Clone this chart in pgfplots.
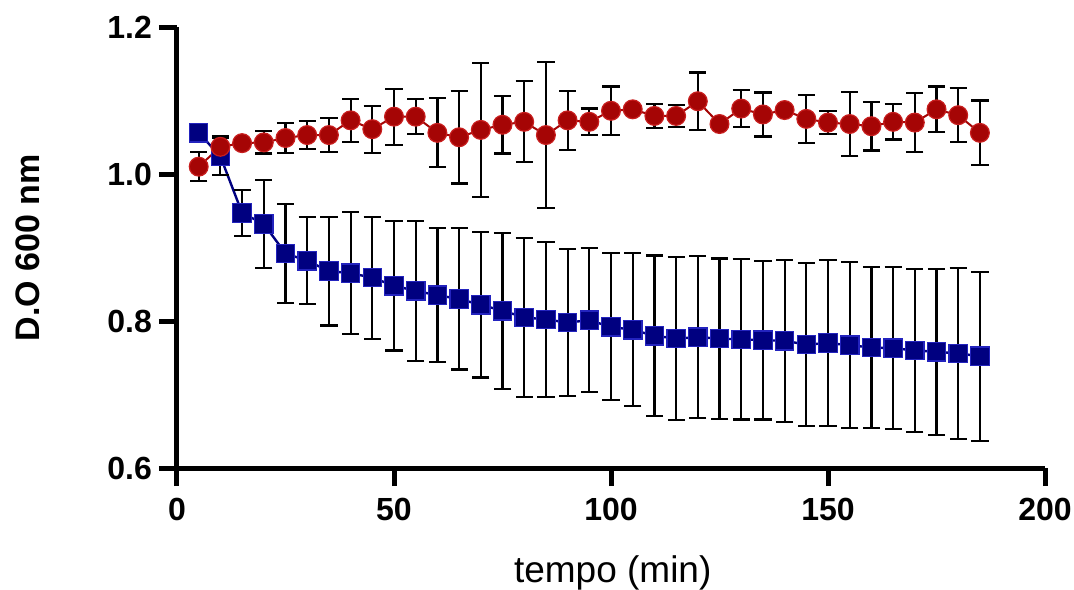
\documentclass[border=0pt]{standalone}
\usepackage{fontspec}
\setmainfont{Liberation Sans}
\usepackage{pgfplots}
\pgfplotsset{compat=1.18}
\definecolor{odred}{RGB}{165,5,5}
\definecolor{odredline}{RGB}{200,30,30}
\definecolor{odblue}{RGB}{0,0,128}
\definecolor{odblueline}{RGB}{35,35,190}

% time (min), mean OD600, SD
\pgfplotstableread{
x y e
5 1.056 0.012
10 1.024 0.025
15 0.947 0.031
20 0.932 0.060
25 0.892 0.067
30 0.882 0.059
35 0.868 0.074
40 0.865 0.083
45 0.859 0.083
50 0.848 0.088
55 0.841 0.095
60 0.835 0.091
65 0.830 0.096
70 0.822 0.099
75 0.814 0.106
80 0.805 0.108
85 0.802 0.105
90 0.798 0.100
95 0.801 0.098
100 0.792 0.100
105 0.788 0.104
110 0.780 0.109
115 0.776 0.111
120 0.778 0.110
125 0.776 0.109
130 0.775 0.109
135 0.774 0.108
140 0.773 0.110
145 0.768 0.111
150 0.770 0.113
155 0.767 0.113
160 0.764 0.110
165 0.763 0.110
170 0.760 0.111
175 0.758 0.113
180 0.756 0.116
185 0.752 0.115
}\bluedata

\pgfplotstableread{
x y e
5 1.010 0.020
10 1.037 0.015
15 1.042 0
20 1.043 0.015
25 1.049 0.020
30 1.053 0.019
35 1.053 0.023
40 1.073 0.029
45 1.061 0.032
50 1.078 0.038
55 1.078 0.024
60 1.056 0.047
65 1.050 0.063
70 1.060 0.091
75 1.067 0.039
80 1.071 0.055
85 1.053 0.099
90 1.073 0.040
95 1.071 0.018
100 1.086 0.033
105 1.088 0
110 1.079 0.016
115 1.079 0.015
120 1.099 0.039
125 1.068 0
130 1.089 0.025
135 1.081 0.030
140 1.087 0
145 1.075 0.033
150 1.070 0.016
155 1.068 0.044
160 1.065 0.033
165 1.071 0.024
170 1.070 0.040
175 1.088 0.031
180 1.080 0.037
185 1.056 0.044
}\reddata

\begin{document}
\begin{tikzpicture}
\path[use as bounding box] (-88.5pt,-60.5pt) rectangle (448.5pt,234pt);
\begin{axis}[
  scale only axis,
  width=434pt, height=220.5pt,
  xmin=0, xmax=200, ymin=0.6, ymax=1.2,
  axis x line*=bottom, axis y line*=left,
  axis line style={line width=2.5pt, black},
  xtick={0,50,100,150,200},
  ytick={0.6,0.8,1.0,1.2},
  tick align=outside,
  major tick length=9pt,
  tick style={line width=2.5pt, black},
  /pgf/number format/assume math mode=true,
  ticklabel style={font=\fontsize{16}{16}\selectfont\bfseries},
  y tick label style={/pgf/number format/.cd, fixed, fixed zerofill, precision=1},
  x tick label style={yshift=-2.5pt, /pgf/number format/.cd, fixed},
  xlabel={tempo (min)},
  ylabel={D.O 600 nm},
  xlabel style={font=\fontsize{18.5}{18.5}\selectfont, at={(axis description cs:0.502,0)}, anchor=base, yshift=-57pt},
  ylabel style={font=\fontsize{17}{17}\selectfont\bfseries, at={(axis description cs:-0.158,0.5)}, anchor=base},
  clip=false,
]
\addplot[odblue, line width=1.2pt, mark=square*,
  mark options={solid, fill=odblue, draw=odblueline, line width=0.6pt, mark size=4.6pt},
  error bars/.cd, y dir=both, y explicit,
  error bar style={black, line width=1.1pt},
  error mark options={rotate=90, black, mark size=4.3pt, line width=1.1pt}]
  table[x=x, y=y, y error=e] {\bluedata};
\addplot[odred, line width=1pt, mark=*,
  mark options={solid, fill=odred, draw=odredline, line width=0.6pt, mark size=4.7pt},
  error bars/.cd, y dir=both, y explicit,
  error bar style={black, line width=1.1pt},
  error mark options={rotate=90, black, mark size=4.3pt, line width=1.1pt}]
  table[x=x, y=y, y error=e] {\reddata};
\end{axis}
\end{tikzpicture}
\end{document}
